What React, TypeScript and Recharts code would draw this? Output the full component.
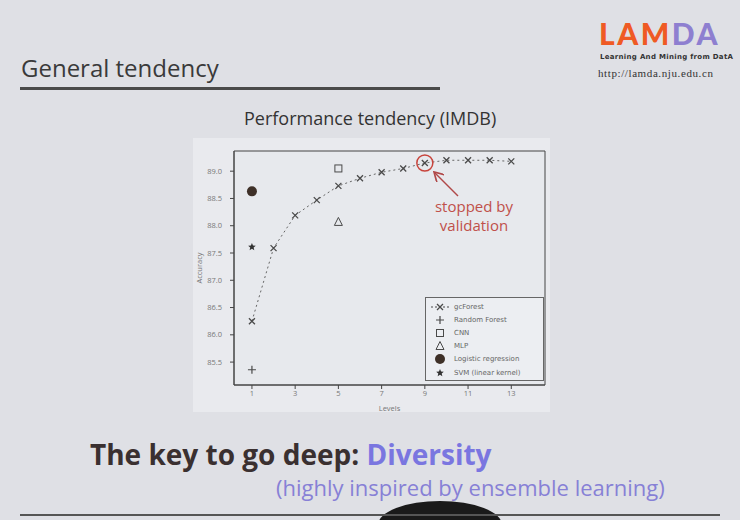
import React from "react";
import {
  ScatterChart,
  Scatter,
  XAxis,
  YAxis,
  ReferenceArea,
  ReferenceDot,
} from "recharts";

// values
const levels = [1, 2, 3, 4, 5, 6, 7, 8, 9, 10, 11, 12, 13];
const gcForestAcc = [86.25, 87.59, 88.19, 88.47, 88.73, 88.87, 88.98, 89.05, 89.15, 89.2, 89.2, 89.2, 89.18];
const randomForest = [{ level: 1, acc: 85.36 }];
const cnn = [{ level: 5, acc: 89.05 }];
const mlp = [{ level: 5, acc: 88.07 }];
const logReg = [{ level: 1, acc: 88.63 }];
const svm = [{ level: 1, acc: 87.61 }];
const xTicks = [1, 3, 5, 7, 9, 11, 13];
const yTicks = [85.5, 86.0, 86.5, 87.0, 87.5, 88.0, 88.5, 89.0];
const legendNames = ["gcForest", "Random Forest", "CNN", "MLP", "Logistic regression", "SVM (linear kernel)"];

const X_DOMAIN: [number, number] = [0.17, 14.56];
const Y_DOMAIN: [number, number] = [85.08, 89.37];

const gcData = levels.map((l, i) => ({ level: l, acc: gcForestAcc[i] }));

const ink = "#4a4a4a";

function XMark(p: any) {
  const { cx, cy } = p;
  return (
    <path
      d={`M${cx - 3},${cy - 3}L${cx + 3},${cy + 3}M${cx - 3},${cy + 3}L${cx + 3},${cy - 3}`}
      stroke={ink}
      strokeWidth={1.3}
    />
  );
}
function PlusMark(p: any) {
  const { cx, cy } = p;
  return <path d={`M${cx - 4},${cy}L${cx + 4},${cy}M${cx},${cy - 4}L${cx},${cy + 4}`} stroke={ink} strokeWidth={1.2} />;
}
function SquareMark(p: any) {
  const { cx, cy } = p;
  return <rect x={cx - 3.5} y={cy - 3.5} width={7} height={7} fill="none" stroke={ink} strokeWidth={1} />;
}
function TriMark(p: any) {
  const { cx, cy } = p;
  return <path d={`M${cx},${cy - 4.5}L${cx + 4},${cy + 3.5}L${cx - 4},${cy + 3.5}Z`} fill="none" stroke={ink} strokeWidth={1} />;
}
function DotMark(p: any) {
  const { cx, cy } = p;
  return <circle cx={cx} cy={cy} r={5} fill="#3e3028" />;
}
function StarMark(p: any) {
  const { cx, cy } = p;
  const pts: string[] = [];
  for (let i = 0; i < 10; i++) {
    const r = i % 2 === 0 ? 4 : 1.8;
    const a = -Math.PI / 2 + (i * Math.PI) / 5;
    pts.push(`${cx + r * Math.cos(a)},${cy + r * Math.sin(a)}`);
  }
  return <polygon points={pts.join(" ")} fill="#333" />;
}

const legendShapes = [XMark, PlusMark, SquareMark, TriMark, DotMark, StarMark];

function LegendBox() {
  return (
    <div
      style={{
        position: "absolute",
        left: 425,
        top: 297,
        width: 119,
        height: 84,
        border: "1px solid #666",
        background: "#eceef2",
        padding: "2px 4px",
        boxSizing: "border-box",
      }}
    >
      {legendNames.map((name, i) => {
        const Shape = legendShapes[i];
        return (
          <div key={name} style={{ display: "flex", alignItems: "center", height: 13.2 }}>
            <svg width={20} height={12}>
              {i === 0 && <line x1={1} y1={6} x2={19} y2={6} stroke={ink} strokeDasharray="2 2" />}
              <Shape cx={10} cy={6} />
            </svg>
            <span style={{ fontSize: 7, color: "#666", marginLeft: 4, fontFamily: "DejaVu Sans", whiteSpace: "nowrap" }}>{name}</span>
          </div>
        );
      })}
    </div>
  );
}

export default function App() {
  return (
    <div
      style={{
        position: "relative",
        width: 740,
        height: 520,
        background: "#dfe0e5",
        overflow: "hidden",
        fontFamily: "'Open Sans', sans-serif",
      }}
    >
      <style>{`body{margin:0}`}</style>

      {/* title */}
      <div style={{ position: "absolute", left: 21, top: 51, fontSize: 24, color: "#3a3a3a", whiteSpace: "nowrap" }}>General tendency</div>
      <div style={{ position: "absolute", left: 20, top: 87, width: 420, height: 3, background: "#4a4a4a" }} />

      {/* logo */}
      <div style={{ position: "absolute", left: 599, top: 15, fontSize: 30, fontWeight: 900, letterSpacing: 2.5, fontFamily: "Lato", whiteSpace: "nowrap" }}>
        <span style={{ color: "#ef5a24" }}>LAM</span>
        <span style={{ color: "#8e7fd0" }}>DA</span>
      </div>
      <div style={{ position: "absolute", left: 600, top: 53, fontSize: 7, fontWeight: 700, color: "#333", fontFamily: "DejaVu Sans", letterSpacing: 0.3, whiteSpace: "nowrap" }}>
        Learning And Mining from DatA
      </div>
      <div style={{ position: "absolute", left: 598, top: 67, fontSize: 11, color: "#333", fontFamily: "Liberation Serif", letterSpacing: 0.6, whiteSpace: "nowrap" }}>
        http://lamda.nju.edu.cn
      </div>

      {/* figure */}
      <div style={{ position: "absolute", left: 244, top: 106, fontSize: 18, color: "#333", whiteSpace: "nowrap" }}>Performance tendency (IMDB)</div>
      <div style={{ position: "absolute", left: 193, top: 138, width: 357, height: 274, background: "#e9eaee" }}>
        <ScatterChart width={357} height={274} margin={{ top: 13, right: 5, left: 0, bottom: 0 }}>
          <XAxis
            type="number"
            dataKey="level"
            domain={X_DOMAIN}
            ticks={xTicks}
            allowDataOverflow
            tick={{ fontSize: 7.5, fill: "#777" }}
            tickSize={4}
            stroke="#444"
            height={27}
            label={{ value: "Levels", position: "insideBottom", offset: 1, style: { fontSize: 7.5, fill: "#777" } }}
          />
          <YAxis
            type="number"
            dataKey="acc"
            domain={Y_DOMAIN}
            ticks={yTicks}
            allowDataOverflow
            tickFormatter={(v: number) => v.toFixed(1)}
            tick={{ fontSize: 7.5, fill: "#777" }}
            tickSize={4}
            tickMargin={8}
            stroke="#444"
            width={41}
            label={{ value: "Accuracy", angle: -90, position: "insideLeft", offset: 6, style: { fontSize: 7.5, fill: "#777", textAnchor: "middle" } }}
          />
          <ReferenceArea x1={X_DOMAIN[0]} x2={X_DOMAIN[1]} y1={Y_DOMAIN[0]} y2={Y_DOMAIN[1]} fill="#e7e9ed" fillOpacity={1} stroke="#444" />
          <Scatter
            name="gcForest"
            data={gcData}
            shape={XMark}
            line={{ stroke: "#666", strokeDasharray: "2 3", strokeWidth: 1 }}
            isAnimationActive={false}
          />
          <Scatter name="Random Forest" data={randomForest} shape={PlusMark} isAnimationActive={false} />
          <Scatter name="CNN" data={cnn} shape={SquareMark} isAnimationActive={false} />
          <Scatter name="MLP" data={mlp} shape={TriMark} isAnimationActive={false} />
          <Scatter name="Logistic regression" data={logReg} shape={DotMark} isAnimationActive={false} />
          <Scatter name="SVM (linear kernel)" data={svm} shape={StarMark} isAnimationActive={false} />
          <ReferenceDot x={9} y={gcForestAcc[8]} r={8} fill="none" stroke="#c8443c" strokeWidth={1.5} />
        </ScatterChart>
      </div>
      <LegendBox />

      {/* annotation */}
      <svg style={{ position: "absolute", left: 0, top: 0 }} width={740} height={520}>
        <defs>
          <marker id="ah" markerWidth="8" markerHeight="8" refX="6" refY="4" orient="auto">
            <path d="M0,0L7,4L0,8" fill="none" stroke="#b04848" strokeWidth={1.2} />
          </marker>
        </defs>
        <line x1={458} y1={196} x2={435} y2={173} stroke="#b04848" strokeWidth={1.4} markerEnd="url(#ah)" />
        <ellipse cx={440} cy={525} rx={62} ry={24} fill="#1a1a1a" />
      </svg>
      <div style={{ position: "absolute", left: 422, top: 197, width: 104, textAlign: "center", fontSize: 15, lineHeight: "19px", color: "#c0504a" }}>
        <div>stopped by</div>
        <div>validation</div>
      </div>

      {/* bottom text */}
      <div style={{ position: "absolute", left: 90, top: 435, fontSize: 28, fontWeight: 700, color: "#3a3030", whiteSpace: "nowrap" }}>
        The key to go deep: <span style={{ color: "#7a76e0" }}>Diversity</span>
      </div>
      <div style={{ position: "absolute", left: 276, top: 472, fontSize: 22, color: "#8780d6", whiteSpace: "nowrap" }}>
        (highly inspired by ensemble learning)
      </div>
      <div style={{ position: "absolute", left: 20, top: 514, width: 700, height: 2, background: "#555" }} />
    </div>
  );
}
